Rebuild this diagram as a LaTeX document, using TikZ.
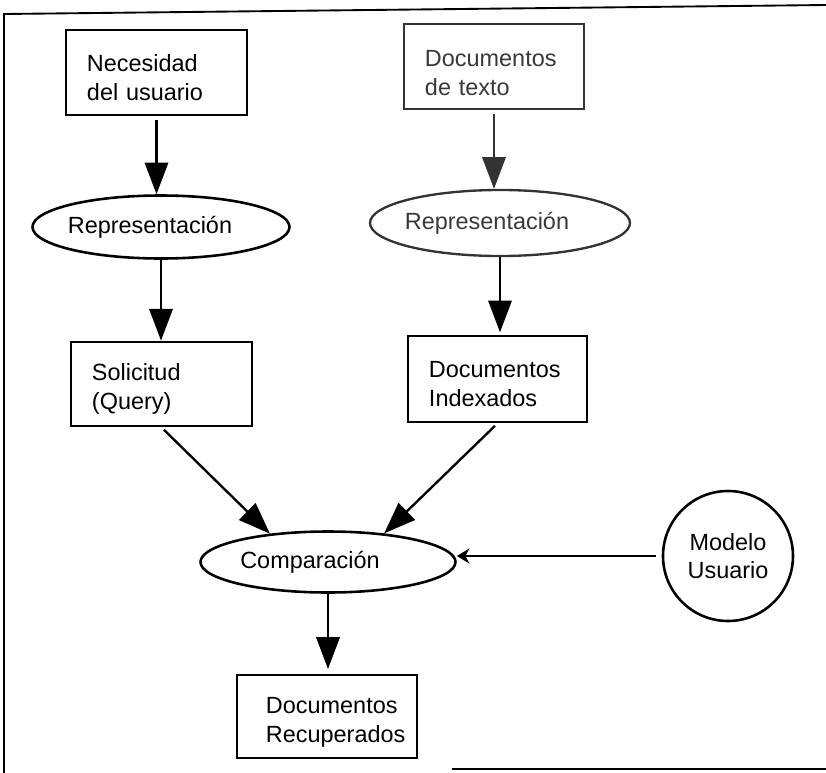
\documentclass[tikz,border=0pt]{standalone}
\usepackage{fontspec}
\setmainfont{Liberation Sans}
\usetikzlibrary{arrows.meta,shapes.geometric,calc}
\begin{document}
\begin{tikzpicture}[x=0.03cm,y=-0.03cm,
  txt/.style={font=\fontsize{20pt}{24.5pt}\selectfont},
  boxnode/.style={draw,line width=2.4pt,rectangle,inner sep=0pt},
  ellnode/.style={draw,line width=2.2pt,ellipse,inner sep=0pt},
  arr/.style={line width=2pt,-{Triangle[length=0.95cm,width=0.7cm]}}]
\useasboundingbox (0,0) rectangle (826,773);
% frame
\draw[line width=1.6pt] (826,5) -- (4,14) -- (4,773);
\draw[line width=1.6pt] (452,769) -- (826,769);
% nodes
\node[boxnode,minimum width=5.43cm,minimum height=2.55cm,
  label={[txt,align=left,text width=4.17cm,yshift=-0.15cm]center:Necesidad\\del usuario}] (b1) at (156.5,72.5) {};
\node[boxnode,draw=black!80,line width=2pt,minimum width=5.4cm,minimum height=2.55cm,
  label={[txt,text=black!78,align=left,text width=4.14cm,yshift=-0.2cm]center:Documentos\\de texto}] (b2) at (494,66.5) {};
\node[ellnode,minimum width=7.71cm,minimum height=1.89cm,
  label={[txt,xshift=-0.33cm]center:Representación}] (e1) at (161,227) {};
\node[ellnode,draw=black!80,line width=2pt,minimum width=7.8cm,minimum height=1.98cm,
  label={[txt,text=black!78,xshift=-0.39cm]center:Representación}] (e2) at (500,223) {};
\node[boxnode,minimum width=5.43cm,minimum height=2.52cm,
  label={[txt,align=left,text width=4.17cm,yshift=-0.15cm]center:Solicitud\\(Query)}] (b3) at (161.5,384) {};
\node[boxnode,minimum width=5.37cm,minimum height=2.58cm,
  label={[txt,align=left,text width=4.11cm,yshift=-0.15cm]center:Documentos\\Indexados}] (b4) at (497.5,379) {};
\node[ellnode,minimum width=7.65cm,minimum height=1.83cm,
  label={[txt,xshift=-0.54cm]center:Comparación}] (comp) at (328,562) {};
\node[draw,line width=2.2pt,circle,minimum size=3.9cm,inner sep=0pt,
  label={[txt,align=center]center:Modelo\\Usuario}] (mu) at (728,556) {};
\node[boxnode,minimum width=5.4cm,minimum height=2.49cm,
  label={[txt,align=left,text width=3.66cm,yshift=-0.18cm]center:Documentos\\Recuperados}] (b5) at (327,716.5) {};
% connectors
\draw[arr,shorten <=3pt] (b1.south) -- (b1.south |- e1.north);
\draw[arr,draw=black!80,fill=black!80,shorten <=3pt] (b2.south) -- (b2.south |- e2.north);
\draw[arr] (e1.south) -- (e1.south |- b3.north);
\draw[arr,shorten >=2pt] (e2.south) -- (e2.south |- b4.north);
\draw[arr,shorten <=3pt] (b3.south) -- (comp.154);
\draw[arr,shorten <=3pt] (b4.south) -- (comp.27);
\draw[line width=2pt,-{Stealth[length=0.38cm,width=0.45cm]},shorten <=5pt] (mu.west) -- (mu.west -| comp.east);
\draw[arr,shorten >=4pt] (comp.south) -- (comp.south |- b5.north);
\end{tikzpicture}
\end{document}
